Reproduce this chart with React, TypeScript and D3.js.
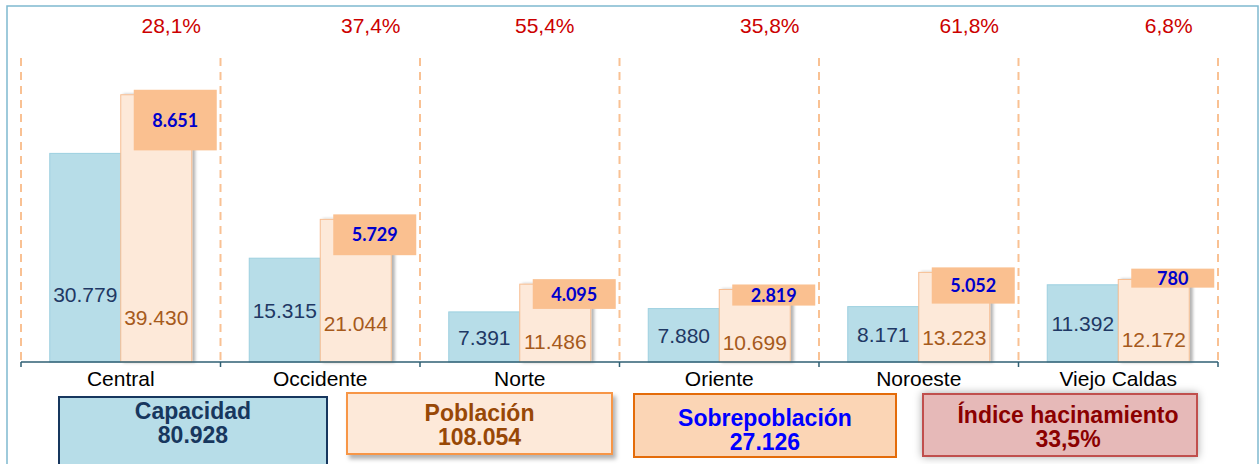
import React from 'react';
import * as d3 from 'd3';

// datos por categoría
const categorias = ['Central', 'Occidente', 'Norte', 'Oriente', 'Noroeste', 'Viejo Caldas'];
const capacidad = [30779, 15315, 7391, 7880, 8171, 11392];
const poblacion = [39430, 21044, 11486, 10699, 13223, 12172];
const sobrepoblacion = [8651, 5729, 4095, 2819, 5052, 780];
const hacinamiento = [28.1, 37.4, 55.4, 35.8, 61.8, 6.8];

// leyenda / totales
const leyendaNombres = ['Capacidad', 'Población', 'Sobrepoblación', 'Índice hacinamiento'];
const leyendaTotales = [80928, 108054, 27126, 33.5];

const W = 1260;
const H = 464;
const baseY = 362;
const FONT = '"Liberation Sans", Arial, sans-serif';

const es = d3.formatLocale({ decimal: ',', thousands: '.', grouping: [3], currency: ['$', ''] });
const fmtInt = es.format(',d');
const fmtPct = (v: number) => es.format('.1f')(v) + '%';

// cajas de la leyenda (layout)
const leyendaEstilo = [
  { x: 59, w: 268, fill: '#b7dde8', stroke: '#17375e', text: '#17375e', top: 397, h: 90, ty: 22, dx: 0, filter: '' },
  { x: 347, w: 265, fill: '#fde9d9', stroke: '#f79646', text: '#984806', top: 393, h: 61, ty: 28, dx: 0, filter: 'url(#shadowBR)' },
  { x: 634, w: 262, fill: '#fbd5b5', stroke: '#e46c0a', text: '#0000ff', top: 394, h: 63, ty: 32, dx: 0, filter: '' },
  { x: 923, w: 274, fill: '#e6b9b8', stroke: '#c0504d', text: '#8b0000', top: 394, h: 62, ty: 29, dx: 8, filter: 'url(#glow)' },
];

export default function App() {
  const x = d3.scaleBand<string>().domain(categorias).range([21, 1218]).padding(0);
  const xIn = d3.scaleBand<string>().domain(['cap', 'pob']).range([0, x.bandwidth()]).paddingInner(0).paddingOuter(0.405);
  const y = d3.scaleLinear().domain([0, 45000]).range([baseY, 57]);

  const boundaries = d3.range(categorias.length + 1).map((i) => 21 + i * x.step());

  return (
    <div style={{ position: 'absolute', left: 0, top: 0 }}>
      <svg width={W} height={H} style={{ display: 'block', fontFamily: FONT }}>
        <defs>
          <filter id="barShadow" x="-10%" y="-10%" width="130%" height="120%">
            <feDropShadow dx="3" dy="0" stdDeviation="1.5" floodColor="#000" floodOpacity="0.3" />
          </filter>
          <filter id="shadowBR" x="-10%" y="-10%" width="130%" height="140%">
            <feDropShadow dx="3" dy="4" stdDeviation="2" floodColor="#000" floodOpacity="0.3" />
          </filter>
          <filter id="glow" x="-10%" y="-20%" width="120%" height="140%">
            <feDropShadow dx="0" dy="0" stdDeviation="4" floodColor="#000" floodOpacity="0.35" />
          </filter>
        </defs>

        <rect x={0} y={0} width={W} height={H} fill="#fff" />
        {/* marco */}
        <rect x={7} y={6} width={1251} height={H + 20} fill="none" stroke="#7fb9cf" strokeWidth={1.5} />

        {/* líneas punteadas entre categorías */}
        {boundaries.map((bx, i) => (
          <line key={i} x1={bx} x2={bx} y1={58} y2={baseY} stroke="#f9c193" strokeWidth={2} strokeDasharray="8,6" />
        ))}

        {categorias.map((c, i) => {
          const x0 = x(c)!;
          const cx = x0 + xIn('cap')!;
          const px = x0 + xIn('pob')!;
          const bw = xIn.bandwidth();
          const hCap = baseY - y(capacidad[i]);
          const hPob = baseY - y(poblacion[i]);
          const hSob = y(capacidad[i]) - y(poblacion[i]);
          const boxH = Math.max(hSob + 2, 19);
          const boxMid = y((capacidad[i] + poblacion[i]) / 2) - 4;
          const boxX = px + 13;
          const boxW = 83;
          const capLabelY = baseY - Math.min(hCap / 2, 68);
          const pobLabelY = baseY - Math.min(hPob * 0.27, 45);
          // Norte: etiqueta de % algo más a la izquierda
          const pctX = i === 2 ? x0 + x.bandwidth() / 2 + 25 : boxX + boxW / 2 - 4;
          return (
            <g key={c}>
              <rect x={cx} y={y(capacidad[i])} width={bw} height={hCap} fill="#b7dde8" stroke="#9dd0e0" strokeWidth={1} />
              <rect x={px} y={y(poblacion[i])} width={bw} height={hPob} fill="#fde9d9" stroke="#f7bf93" strokeWidth={1} filter="url(#barShadow)" />
              <rect x={boxX} y={boxMid - boxH / 2} width={boxW} height={boxH} fill="#fac090" />
              <text x={boxX + boxW / 2} y={boxMid} dy="0.36em" textAnchor="middle" fill="#0000cc" fontFamily="Lato, sans-serif" fontWeight="bold" fontSize={18}>
                {fmtInt(sobrepoblacion[i])}
              </text>
              <text x={cx + bw / 2} y={capLabelY} dy="0.36em" textAnchor="middle" fill="#1f3864" fontSize={21}>
                {fmtInt(capacidad[i])}
              </text>
              <text x={px + bw / 2} y={pobLabelY} dy="0.36em" textAnchor="middle" fill="#a65a1c" fontSize={21}>
                {fmtInt(poblacion[i])}
              </text>
              <text x={pctX} y={33} textAnchor="middle" fill="#cc0000" fontSize={21}>
                {fmtPct(hacinamiento[i])}
              </text>
              <text x={x0 + x.bandwidth() / 2} y={386} textAnchor="middle" fill="#000" fontSize={21}>
                {c}
              </text>
            </g>
          );
        })}

        {/* eje */}
        <line x1={21} x2={1218} y1={baseY} y2={baseY} stroke="#2f5f73" strokeWidth={1.5} />
        {boundaries.map((bx, i) => (
          <line key={'t' + i} x1={bx} x2={bx} y1={baseY} y2={baseY + 5} stroke="#2f5f73" strokeWidth={1.5} />
        ))}

        {/* leyenda */}
        {leyendaNombres.map((n, i) => {
          const s = leyendaEstilo[i];
          const val = i === 3 ? fmtPct(leyendaTotales[i]) : fmtInt(leyendaTotales[i]);
          const tx = s.x + s.w / 2 + s.dx;
          return (
            <g key={n}>
              <rect x={s.x} y={s.top} width={s.w} height={s.h} fill={s.fill} stroke={s.stroke} strokeWidth={2} filter={s.filter || undefined} />
              <text x={tx} y={s.top + s.ty} textAnchor="middle" fill={s.text} fontWeight="bold" fontSize={23}>
                {n}
              </text>
              <text x={tx} y={s.top + s.ty + 24} textAnchor="middle" fill={s.text} fontWeight="bold" fontSize={23}>
                {val}
              </text>
            </g>
          );
        })}
      </svg>
    </div>
  );
}
